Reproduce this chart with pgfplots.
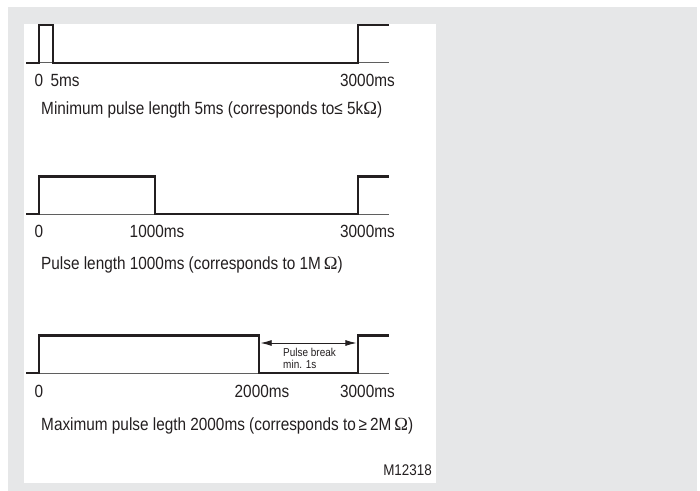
\documentclass[border=0pt]{standalone}
\usepackage{fontspec}
\setmainfont{Liberation Sans}[FakeStretch=0.87]
\newfontfamily\omegafont{Liberation Serif}
\usepackage{pgfplots}
\pgfplotsset{compat=1.18}
\usetikzlibrary{arrows.meta}
\definecolor{bggrey}{RGB}{230,231,232}
\definecolor{ink}{RGB}{35,31,32}
\definecolor{basecol}{RGB}{95,95,95}
\newcommand{\Om}{{\omegafont\fontsize{18.5}{20}\selectfont Ω}}
\begin{document}
\begin{tikzpicture}[font=\fontsize{17.7}{20}\selectfont, text=ink]
\fill[white] (0bp,0bp) rectangle (700bp,491bp);
\fill[bggrey] (8bp,0bp) rectangle (697bp,484bp);
\fill[white] (24bp,8bp) rectangle (436bp,467bp);
\pgfplotsset{pulse/.style={scale only axis, width=363bp, height=37.5bp,
  xmin=-122.3, xmax=3291.5, ymin=0, ymax=1, hide axis, clip=false, anchor=south west}}
% --- chart 1 ---
\begin{axis}[pulse, at={(26bp,428.2bp)}]
 \addplot[basecol, line width=0.9bp] coordinates {(-122.3,0) (3291.5,0)};
 \addplot[ink, line width=2.1bp, line join=miter] coordinates {(-122.3,0)(0,0)(0,1)(132,1)(132,0)(3000,0)(3000,1)(3291.5,1)};
 \node[anchor=base, inner sep=0] at (axis cs:0,0) [yshift=-24bp] {0};
 \node[anchor=base, inner sep=0] at (axis cs:245,0) [yshift=-24bp] {5ms};
 \node[anchor=base, inner sep=0] at (axis cs:3089,0) [yshift=-24bp] {3000ms};
 \node[anchor=base west, inner sep=0] at (axis cs:19,0) [yshift=-51.5bp] {Minimum pulse length 5ms (corresponds to≤\ 5k\Om)};
\end{axis}
% --- chart 2 ---
\begin{axis}[pulse, at={(26bp,277bp)}]
 \addplot[basecol, line width=0.9bp] coordinates {(-122.3,0) (3291.5,0)};
 \addplot[ink, line width=2.1bp, line join=miter] coordinates {(-122.3,0)(0,0)(0,1)(1091,1)(1091,0)(3000,0)(3000,1)(3291.5,1)};
 \node[anchor=base, inner sep=0] at (axis cs:0,0) [yshift=-24bp] {0};
 \node[anchor=base, inner sep=0] at (axis cs:1110,0) [yshift=-24bp] {1000ms};
 \node[anchor=base, inner sep=0] at (axis cs:3089,0) [yshift=-24bp] {3000ms};
 \node[anchor=base west, inner sep=0] at (axis cs:19,0) [yshift=-56bp] {Pulse length 1000ms (corresponds to 1M\,\Om)};
\end{axis}
% --- chart 3 ---
\begin{axis}[pulse, at={(26bp,118bp)}]
 \addplot[basecol, line width=0.9bp] coordinates {(-122.3,0) (3291.5,0)};
 \addplot[ink, line width=2.1bp, line join=miter] coordinates {(-122.3,0)(0,0)(0,1)(2069,1)(2069,0)(3000,0)(3000,1)(3291.5,1)};
 \draw[ink, line width=0.8bp, {Latex[length=11bp,width=6bp]}-{Latex[length=11bp,width=6bp]}] (axis cs:2085,0.8) -- (axis cs:2985,0.8);
 \node[anchor=base west, inner sep=0, font=\fontsize{11.5}{12}\selectfont] at (axis cs:2295,0) [yshift=16.3bp] {Pulse break};
 \node[anchor=base west, inner sep=0, font=\fontsize{11.5}{12}\selectfont] at (axis cs:2295,0) [yshift=4.7bp] {min. 1s};
 \node[anchor=base, inner sep=0] at (axis cs:0,0) [yshift=-24bp] {0};
 \node[anchor=base, inner sep=0] at (axis cs:2097,0) [yshift=-24bp] {2000ms};
 \node[anchor=base, inner sep=0] at (axis cs:3089,0) [yshift=-24bp] {3000ms};
 \node[anchor=base west, inner sep=0] at (axis cs:19,0) [yshift=-57.5bp] {Maximum pulse legth 2000ms (corresponds to\,≥\,2M\,\Om)};
\end{axis}
\node[anchor=base east, inner sep=0, font=\fontsize{15.5}{18}\selectfont] at (432bp,15.5bp) {M12318};
\end{tikzpicture}
\end{document}
